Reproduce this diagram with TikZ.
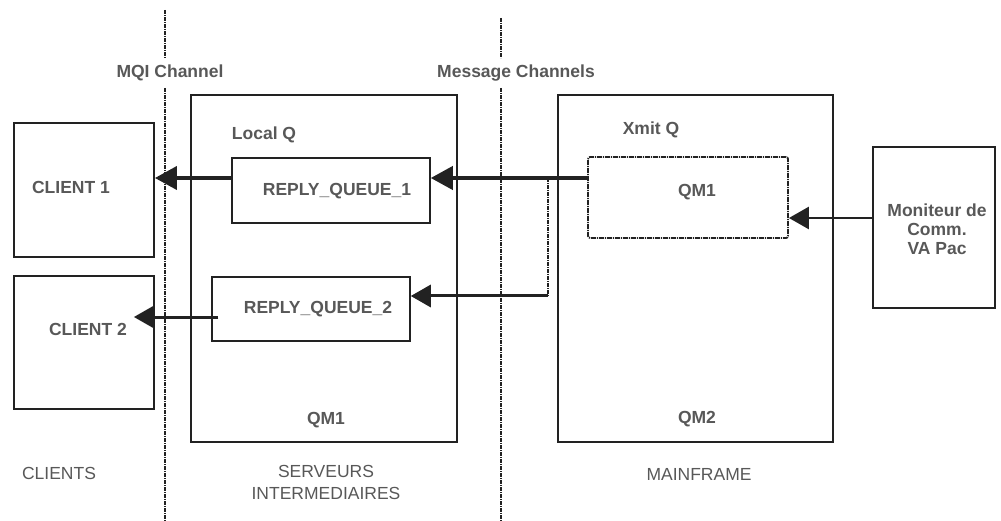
\documentclass[tikz,border=0pt]{standalone}
\usepackage{fontspec}
\setmainfont{Liberation Sans}
\usetikzlibrary{arrows.meta}
\definecolor{txt}{HTML}{585858}
\definecolor{ln}{HTML}{222222}
\tikzset{
  box/.style={draw=ln, line width=1.8pt, minimum width=#1, inner sep=0pt},
  bt/.style={text=txt, font=\fontsize{17.5}{19}\selectfont\bfseries, inner sep=0pt, align=center},
  rt/.style={text=txt, font=\fontsize{17.5}{22}\selectfont, inner sep=0pt, align=center},
  arr/.style={draw=ln, line width=3.8pt, -{Triangle[length=22pt,width=23pt]}},
  thinarr/.style={draw=ln, line width=2.6pt, -{Triangle[length=20pt,width=22pt]}},
  sep/.style={draw=ln, line width=2.6pt, dash pattern=on 4pt off 1pt on 1pt off 1pt},
}
\begin{document}
\begin{tikzpicture}[x=1pt,y=-1pt]
\useasboundingbox (0,0) rectangle (1001,521);
% separators
\draw[sep] (165,10) -- (165,58);
\draw[sep] (165,88) -- (165,521);
\draw[sep] (501,18) -- (501,58);
\draw[sep] (501,88) -- (501,521);
% boxes
\node[box=140pt, minimum height=134pt] (c1) at (84,190) {};
\node[box=140pt, minimum height=133pt] (c2) at (84,342.5) {};
\node[box=266pt, minimum height=347pt] (srv) at (324,268.5) {};
\node[box=275pt, minimum height=347pt] (mf) at (695.5,268.5) {};
\node[box=198pt, minimum height=65pt, line width=1.5pt] (rq1) at (331,190.5) {};
\node[box=198pt, minimum height=64pt, line width=1.5pt] (rq2) at (311,309) {};
\node[box=200pt, minimum height=81pt, dash pattern=on 5pt off 1pt on 1pt off 1pt, rounded corners=2pt] (xq) at (688,197.5) {};
\node[box=122pt, minimum height=161pt] (mon) at (934,227.5) {};
% texts
\node[bt] (tmqi) at (170,73) {MQI Channel};
\node[bt] (tmsg) at (516,73) {Message Channels};
\node[bt] (tlq) at (264,135) {Local Q};
\node[bt] (txq) at (651,130) {Xmit Q};
\node[bt] (tc1) at (71,187) {CLIENT 1};
\node[bt] (tc2) at (88,329) {CLIENT 2};
\node[bt] (trq1) at (337,191) {REPLY\_QUEUE\_1};
\node[bt] (trq2) at (318,309) {REPLY\_QUEUE\_2};
\node[bt] (tqx) at (697,192) {QM1};
\node[bt] (tqs) at (326,420) {QM1};
\node[bt] (tqm) at (697,419) {QM2};
\node[bt] (tmon) at (937,229) {Moniteur de\\Comm.\\VA Pac};
\node[rt] (tcl) at (59,473) {CLIENTS};
\node[rt] (tsv) at (326,482) {SERVEURS\\INTERMEDIAIRES};
\node[rt] (tmf) at (699,474) {MAINFRAME};
% connectors
\coordinate (p1) at ([yshift=19.5pt]xq.west);
\draw[arr] (p1) -- (p1 -| rq1.east);
\coordinate (j) at (548,178);
\coordinate (k) at (548,296);
\draw[sep, line width=2.2pt] (j) -- (k);
\draw[thinarr, line width=3pt] (k) -- (k -| rq2.east);
\coordinate (p2) at ([yshift=12.5pt]rq1.west);
\draw[arr] (p2) -- (p2 -| c1.east);
\coordinate (p3) at ([xshift=7pt,yshift=-8pt]rq2.west);
\coordinate (c2in) at ([xshift=-21pt,yshift=25.5pt]c2.east);
\draw[thinarr, line width=3pt] (p3) -- (c2in);
\coordinate (p4) at ([yshift=9.5pt]mon.west);
\draw[thinarr] (p4) -- (p4 -| xq.east);
\end{tikzpicture}
\end{document}
